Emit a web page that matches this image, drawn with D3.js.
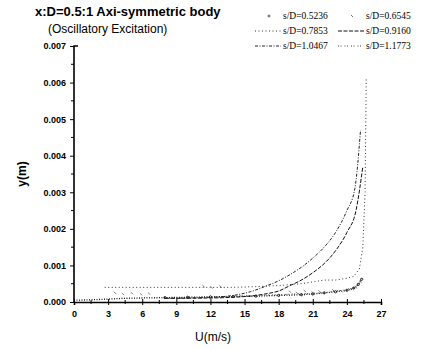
<!DOCTYPE html>
<html>
<head>
<meta charset="utf-8">
<script src="https://cdn.jsdelivr.net/npm/d3@7"></script>
<style>
  body { margin: 0; background: #fff; }
</style>
</head>
<body>
<div id="viz"></div>
<script>
// chart values
var seriesNames = ['s/D=0.5236', 's/D=0.6545', 's/D=0.7853', 's/D=0.9160', 's/D=1.0467', 's/D=1.1773'];

var u1 = [0, 1.5, 3, 4.5, 6, 8, 10, 12, 14, 16, 18, 20, 21, 22, 23, 24, 24.6, 25, 25.3];
var y1 = [0.00005, 0.00006, 0.00008, 0.0001, 0.00011, 0.00012, 0.00013, 0.00014, 0.00015, 0.00016, 0.00018, 0.0002, 0.00022, 0.00025, 0.00028, 0.00032, 0.00038, 0.00048, 0.00062];

var u2 = [3.6, 4.3, 5.1, 5.9, 6.6, 11.4, 12.1, 12.9, 19.0, 19.6, 20.3, 21.0, 21.6, 22.8, 23.5, 24.2, 24.8, 25.2];
var y2 = [0.00025, 0.00022, 0.00024, 0.00021, 0.00023, 0.00043, 0.0004, 0.00042, 0.00028, 0.00025, 0.0003, 0.00026, 0.00029, 0.00032, 0.0003, 0.00035, 0.0004, 0.00055];

var u3 = [2.7, 5, 8, 10, 12, 14, 16, 18, 20, 21, 22, 23, 24, 24.6, 25.1, 25.4, 25.6, 25.7];
var y3 = [0.0004, 0.0004, 0.0004, 0.0004, 0.0004, 0.0004, 0.00042, 0.00045, 0.0005, 0.00055, 0.0006, 0.0006, 0.00065, 0.0007, 0.0009, 0.0015, 0.003, 0.0061];

var u4 = [8, 12, 14, 16, 17, 18, 19, 20, 21, 22, 23, 24, 24.8, 25.4];
var y4 = [0.0001, 0.00011, 0.00013, 0.00018, 0.00023, 0.0003, 0.00045, 0.0006, 0.0008, 0.00105, 0.0014, 0.0019, 0.0025, 0.0037];

var u5 = [8, 12, 14, 15.5, 17, 18, 19, 20, 21, 22, 23, 24, 24.7, 25.2];
var y5 = [0.0001, 0.00013, 0.00018, 0.00028, 0.00045, 0.00058, 0.00075, 0.00095, 0.0012, 0.0015, 0.0019, 0.0025, 0.0031, 0.0047];

var u6 = [14, 16, 18, 19.5, 21, 22, 23, 24, 24.6, 25.0, 25.3];
var y6 = [0.00016, 0.00018, 0.0002, 0.00022, 0.00024, 0.00026, 0.0003, 0.00034, 0.0004, 0.0005, 0.00065];

var xTicks = [0, 3, 6, 9, 12, 15, 18, 21, 24, 27];
var yTicks = [0, 0.001, 0.002, 0.003, 0.004, 0.005, 0.006, 0.007];

var allU = [u1, u2, u3, u4, u5, u6];
var allY = [y1, y2, y3, y4, y5, y6];

var sans = '"Liberation Sans", Arial, sans-serif';
var serif = '"Liberation Serif", "Times New Roman", serif';

var styles = [
    { dash: '1,1.5', color: '#111', width: 1.3 },
    { dash: null, color: '#666', width: 0.8 },
    { dash: '1,2.5', color: '#333', width: 1 },
    { dash: '4,1.5', color: '#111', width: 1 },
    { dash: '3,1.5,1,1.5', color: '#222', width: 1 },
    { dash: '1,1.5,1,3', color: '#444', width: 1 }
];

var width = 427;
var height = 350;
var margin = { left: 74, right: 46, top: 46, bottom: 48 };

var svg = d3.select('#viz')
    .append('svg')
    .attr('width', width)
    .attr('height', height)
    .style('font-family', sans);

var x = d3.scaleLinear().domain([0, 27]).range([margin.left, width - margin.right]);
var y = d3.scaleLinear().domain([0, 0.007]).range([height - margin.bottom, margin.top]);

// title
svg.append('text')
    .attr('x', 35).attr('y', 16)
    .style('font-size', '13px').style('font-weight', 'bold')
    .text('x:D=0.5:1 Axi-symmetric body');
svg.append('text')
    .attr('x', 48).attr('y', 33)
    .style('font-size', '12px')
    .text('(Oscillatory Excitation)');

// axes
var xAxis = d3.axisBottom(x).tickValues(xTicks).tickSize(3).tickPadding(6)
    .tickFormat(d3.format('d'));
var gx = svg.append('g')
    .attr('transform', 'translate(0,' + y(0) + ')')
    .call(xAxis);

var yAxis = d3.axisLeft(y).tickValues(yTicks).tickSize(4).tickPadding(4)
    .tickFormat(d3.format('.3f'));
var gy = svg.append('g')
    .attr('transform', 'translate(' + x(0) + ',0)')
    .call(yAxis);

// minor ticks
gx.selectAll('.minor')
    .data(d3.range(1.5, 27, 3))
    .enter().append('line')
    .attr('x1', function (d) { return x(d); })
    .attr('x2', function (d) { return x(d); })
    .attr('y1', -2).attr('y2', 2)
    .attr('stroke', '#000');
gx.selectAll('.tick line').attr('y1', -3);

gy.selectAll('.minor')
    .data(d3.range(0.0005, 0.007, 0.001))
    .enter().append('line')
    .attr('y1', function (d) { return y(d); })
    .attr('y2', function (d) { return y(d); })
    .attr('x1', -3).attr('x2', 0)
    .attr('stroke', '#000');

[gx, gy].forEach(function (g) {
    g.select('.domain').attr('stroke-width', 1.6).attr('stroke', '#000');
    g.selectAll('.tick line').attr('stroke-width', 1);
    g.selectAll('.tick text')
        .attr('fill', '#000')
        .style('font-size', '9px')
        .style('font-weight', 'bold')
        .style('font-family', sans);
});
gy.select('.domain').attr('d', 'M0,' + y(0) + 'V' + y(0.007) + 'h4');

// axis labels
svg.append('text')
    .attr('transform', 'translate(26,' + ((y(0) + y(0.007)) / 2) + ') rotate(-90)')
    .attr('text-anchor', 'middle')
    .style('font-size', '12px').style('font-weight', 'bold')
    .text('y(m)');
svg.append('text')
    .attr('x', 213).attr('y', 341)
    .attr('text-anchor', 'middle')
    .style('font-size', '12px')
    .text('U(m/s)');

// curves
var line = d3.line()
    .x(function (d) { return x(d[0]); })
    .y(function (d) { return y(d[1]); })
    .curve(d3.curveMonotoneX);

var straight = d3.line()
    .x(function (d) { return x(d[0]); })
    .y(function (d) { return y(d[1]); });

allU.forEach(function (us, i) {
    var pts = us.map(function (u, j) { return [u, allY[i][j]]; });
    var st = styles[i];
    if (i === 1) {
        // sparse tick marks
        svg.append('g').selectAll('line')
            .data(pts)
            .enter().append('line')
            .attr('x1', function (d) { return x(d[0]) - 1.2; })
            .attr('x2', function (d) { return x(d[0]) + 1.2; })
            .attr('y1', function (d) { return y(d[1]) - 1; })
            .attr('y2', function (d) { return y(d[1]) + 1; })
            .attr('stroke', st.color)
            .attr('stroke-width', st.width);
        return;
    }
    svg.append('path')
        .datum(pts)
        .attr('d', i === 2 ? straight : line)
        .attr('fill', 'none')
        .attr('stroke', st.color)
        .attr('stroke-width', st.width)
        .attr('stroke-dasharray', st.dash);
    if (i === 0) {
        svg.append('g').selectAll('circle')
            .data(pts.filter(function (d) { return d[0] >= 8; }))
            .enter().append('circle')
            .attr('cx', function (d) { return x(d[0]); })
            .attr('cy', function (d) { return y(d[1]); })
            .attr('r', 1.1)
            .attr('fill', 'none')
            .attr('stroke', '#111')
            .attr('stroke-width', 0.9);
    }
});

// legend
var legend = svg.append('g');
seriesNames.forEach(function (name, i) {
    var col = i % 2;
    var row = Math.floor(i / 2);
    var lx = col === 0 ? 255 : 338;
    var ly = 16 + row * 15;
    var st = styles[i];
    if (i === 0) {
        legend.append('circle').attr('cx', lx + 14).attr('cy', ly)
            .attr('r', 1).attr('fill', 'none').attr('stroke', '#333').attr('stroke-width', 0.8);
    } else if (i === 1) {
        legend.append('line').attr('x1', lx + 13).attr('x2', lx + 15)
            .attr('y1', ly - 1).attr('y2', ly + 1)
            .attr('stroke', '#555').attr('stroke-width', 0.8);
    } else {
        legend.append('line')
            .attr('x1', lx).attr('x2', lx + 26)
            .attr('y1', ly).attr('y2', ly)
            .attr('stroke', st.color)
            .attr('stroke-width', st.width)
            .attr('stroke-dasharray', st.dash);
    }
    legend.append('text')
        .attr('x', lx + 28).attr('y', ly + 3)
        .style('font-size', '9.5px')
        .style('font-family', serif)
        .text(name);
});
</script>
</body>
</html>
